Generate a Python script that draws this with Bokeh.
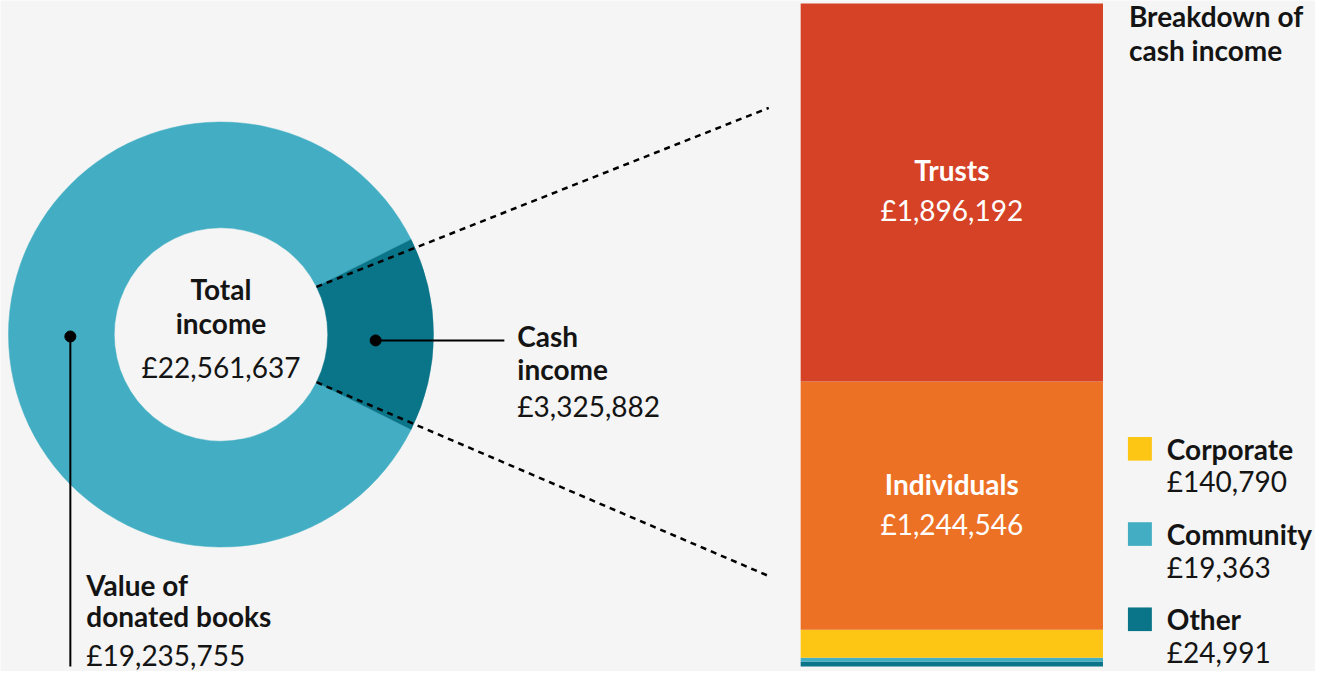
import math
from bokeh.plotting import figure
from bokeh.models import Range1d
from bokeh.core.properties import value
from bokeh.embed import file_html
from bokeh.resources import INLINE

# ---------------- data ----------------
donut_names = ["Value of donated books", "Cash income"]
donut_values = [19235755, 3325882]
donut_colors = ["#43aec3", "#0a7489"]

cash_names = ["Other", "Community", "Corporate", "Individuals", "Trusts"]  # bottom -> top
cash_values = [24991, 19363, 140790, 1244546, 1896192]
cash_colors = ["#0a7489", "#43aec3", "#fec614", "#ed7125", "#d64226"]

total_income = sum(donut_values)
cash_total = sum(cash_values)

def money(v):
    return "£{:,}".format(v)

FONT = value("Lato")
INK = "#141414"
BG = "#f5f5f5"
W, H = 1315, 671
XR = (0, 1318)
YR = (689, 8)
sx = W / (XR[1] - XR[0])
sy = H / (YR[0] - YR[1])

p = figure(width=W, height=H, x_range=Range1d(*XR), y_range=Range1d(*YR),
           output_backend="svg", toolbar_location=None, min_border=0,
           x_axis_location=None, y_axis_location=None,
           background_fill_color=BG, border_fill_color=BG, outline_line_color=None)
p.grid.visible = False
# bar scale: value 0 at y=684, full cash total at y=11
k = cash_total / 673.0
p.extra_y_ranges = {"cash": Range1d(-(YR[0] - 684) * k, cash_total + (11 - YR[1]) * k)}

# ---------------- donut ----------------
cx, cy, r_in, r_out = 221, 347, 107, 213
half = math.pi * donut_values[1] / total_income
p.annular_wedge(x=[cx, cx], y=[cy, cy], inner_radius=r_in, outer_radius=r_out,
                start_angle=[half, -half], end_angle=[2 * math.pi - half, half],
                fill_color=donut_colors, line_color=donut_colors, line_width=0.5)

# dashed connectors from the cash wedge's inner corners to the bar
ux = cx + r_in * math.cos(half)
dy = r_in * math.sin(half) * sx / sy
p.line(x=[ux, 770], y=[cy - dy, 117], line_color="black", line_width=2.5, line_dash="6 5")
p.line(x=[ux, 772], y=[cy + dy, 593], line_color="black", line_width=2.5, line_dash="6 5")

# leader lines
p.line(x=[376, 505], y=[353, 353], line_color="black", line_width=2)
p.line(x=[70, 70], y=[349, 684], line_color="black", line_width=2)
p.scatter(x=[376, 70], y=[353, 349], size=11, color="black")

SHIFT = 11  # renderer places alphabetic text lower than requested

def txt(x, y, s, size="28px", bold=True, color=INK, align="left", **kw):
    p.text(x=[x], y=[y - SHIFT], text=[s], text_font=FONT, text_font_size=size,
           text_font_style="bold" if bold else "normal", text_color=color,
           text_align=align, text_baseline="alphabetic", **kw)

# centre label
txt(cx, 312, "Total", align="center")
txt(cx, 346, "income", align="center")
txt(cx, 391, money(total_income), bold=False, align="center")

# cash income label
txt(518, 359, "Cash")
txt(518, 393, "income")
txt(518, 431, money(donut_values[1]), bold=False)

# books label
txt(86, 612, "Value of")
txt(86, 644, "donated books")
txt(86, 683, money(donut_values[0]), bold=False)

# ---------------- stacked bar ----------------
bottoms, tops = [], []
acc = 0
for v in cash_values:
    bottoms.append(acc)
    acc += v
    tops.append(acc)
p.quad(left=802, right=1105, bottom=bottoms, top=tops, fill_color=cash_colors,
       line_color=None, y_range_name="cash")

for i in (3, 4):
    mid = (bottoms[i] + tops[i]) / 2
    p.text(x=[953.5], y=[mid], text=[cash_names[i]], text_font=FONT, text_font_size="28px",
           text_font_style="bold", text_color="white", text_align="center",
           text_baseline="alphabetic", y_range_name="cash", y_offset=-11 - SHIFT)
    p.text(x=[953.5], y=[mid], text=[money(cash_values[i])], text_font=FONT, text_font_size="28px",
           text_font_style="normal", text_color="white", text_align="center",
           text_baseline="alphabetic", y_range_name="cash", y_offset=29 - SHIFT)

# title
txt(1131, 35, "Breakdown of")
txt(1131, 69, "cash income")

# legend for the small segments
for n, i in enumerate((2, 1, 0)):
    top = 451 + n * 86.5
    p.quad(left=1130, right=1154, top=top, bottom=top + 24, fill_color=cash_colors[i], line_color=None)
    txt(1169, top + 23, cash_names[i])
    txt(1169, top + 56, money(cash_values[i]), bold=False)

open("out.html", "w").write(file_html(p, INLINE))
